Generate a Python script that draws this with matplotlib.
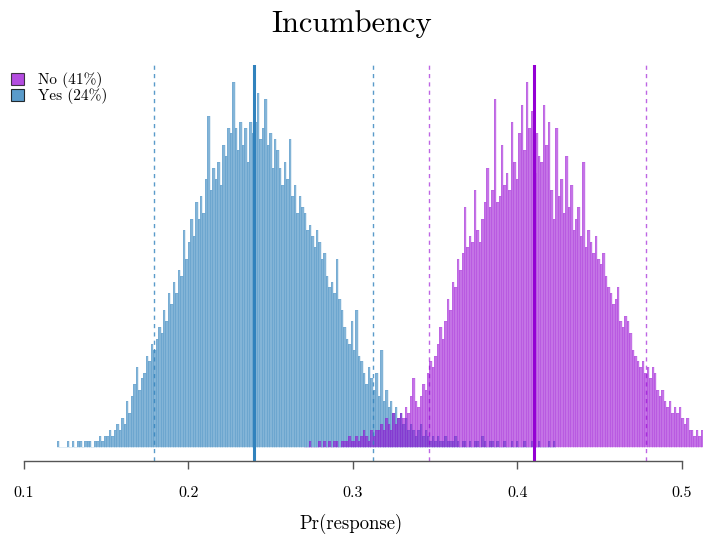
import matplotlib
matplotlib.use("Agg")
import matplotlib.pyplot as plt
import numpy as np
from matplotlib.patches import Patch

plt.rcParams['font.family'] = ['cmr10', 'DejaVu Serif']
plt.rcParams['axes.formatter.use_mathtext'] = True

# Histogram bins (left edges start here, fixed width)
bin_width = 0.0015
yes_start = 0.120
no_start = 0.270

# Posterior draws per bin, "Yes" group
yes_counts = [
    1, 0, 0, 0, 1, 0, 1, 0, 1, 1,
    0, 1, 1, 1, 0, 1, 1, 2, 1, 2,
    2, 3, 2, 3, 4, 3, 5, 4, 8, 6,
    9, 11, 14, 10, 12, 13, 16, 15, 18, 17,
    19, 21, 20, 24, 22, 27, 25, 29, 27, 31,
    30, 38, 33, 36, 40, 37, 43, 40, 44, 41,
    47, 58, 45, 49, 47, 50, 46, 53, 51, 56,
    55, 64, 56, 52, 57, 53, 56, 50, 57, 55,
    57, 62, 54, 56, 61, 53, 55, 49, 54, 52,
    49, 46, 50, 47, 54, 44, 46, 41, 44, 42,
    41, 38, 39, 37, 35, 38, 36, 33, 34, 30,
    28, 29, 27, 33, 26, 24, 21, 19, 18, 22,
    17, 24, 16, 15, 13, 11, 14, 12, 10, 13,
    9, 17, 8, 10, 7, 8, 6, 7, 5, 6,
    4, 5, 3, 4, 3, 2, 3, 4, 2, 3,
    2, 1, 2, 1, 2, 1, 1, 2, 1, 1,
    1, 2, 1, 0, 1, 1, 0, 1, 0, 1,
    1, 0, 2, 1, 0, 1, 1, 0, 1, 0,
    0, 1, 0, 0, 1, 0, 1, 0, 0, 1,
    0, 0, 1, 0, 0, 1, 0, 0, 0, 1,
    0, 1,
]

# Posterior draws per bin, "No" group
no_counts = [
    0, 0, 1, 0, 0, 0, 1, 0, 1, 0,
    1, 0, 1, 1, 0, 1, 1, 1, 2, 1,
    1, 2, 1, 2, 3, 2, 1, 3, 2, 3,
    3, 4, 3, 5, 4, 3, 6, 4, 5, 6,
    5, 7, 6, 9, 12, 8, 7, 9, 11, 10,
    13, 15, 14, 16, 18, 21, 19, 22, 26, 24,
    29, 28, 33, 31, 34, 42, 35, 37, 36, 45,
    38, 36, 40, 43, 49, 42, 45, 61, 43, 44,
    53, 46, 48, 45, 57, 50, 47, 55, 60, 52,
    64, 56, 59, 48, 55, 51, 50, 60, 53, 57,
    45, 40, 56, 44, 47, 41, 51, 42, 46, 38,
    40, 42, 37, 50, 35, 38, 36, 34, 37, 33,
    32, 34, 30, 28, 27, 25, 26, 28, 22, 21,
    23, 22, 20, 17, 16, 15, 14, 15, 13, 14,
    12, 14, 13, 10, 9, 10, 8, 7, 8, 6,
    7, 6, 7, 5, 4, 5, 3, 3, 2, 3,
    2, 3, 1, 2, 2, 3, 1,
]

# mean and 95% interval of each group
yes_mean, yes_lo, yes_hi = 0.240, 0.179, 0.312
no_mean, no_lo, no_hi = 0.410, 0.346, 0.478

labels = ["No (41%)", "Yes (24%)"]
ticks = [0.1, 0.2, 0.3, 0.4, 0.5]

blue = "#3182bd"
purple = "#9400d3"

fig = plt.figure(figsize=(7.03, 5.41), dpi=100)
ax = fig.add_axes([0, 0.148, 1, 0.732])

yes_edges = yes_start + bin_width * np.arange(len(yes_counts))
no_edges = no_start + bin_width * np.arange(len(no_counts))

ax.bar(yes_edges, yes_counts, width=bin_width, align='edge',
       color=blue, alpha=0.6, edgecolor='none', linewidth=0)
ax.bar(yes_edges, yes_counts, width=bin_width, align='edge',
       fill=False, edgecolor=blue, alpha=0.25, linewidth=0.4)
ax.bar(no_edges, no_counts, width=bin_width, align='edge',
       color=purple, alpha=0.55, edgecolor='none', linewidth=0)
ax.bar(no_edges, no_counts, width=bin_width, align='edge',
       fill=False, edgecolor=purple, alpha=0.2, linewidth=0.4)

ax.axvline(yes_mean, color=blue, lw=2.2)
ax.axvline(no_mean, color=purple, lw=2.2)
for v in (yes_lo, yes_hi):
    ax.axvline(v, color=blue, lw=1.0, ls=(0, (3, 3)), alpha=0.8)
for v in (no_lo, no_hi):
    ax.axvline(v, color=purple, lw=1.0, ls=(0, (3, 3)), alpha=0.6)

ax.set_xlim(0.0854, 0.5128)
ax.set_ylim(-2.46, 67.0)

for s in ('top', 'right', 'left'):
    ax.spines[s].set_visible(False)
ax.spines['bottom'].set_bounds(0.1, 0.5)
ax.spines['bottom'].set_color('#555555')
ax.spines['bottom'].set_linewidth(1.0)
ax.set_yticks([])
ax.set_xticks(ticks)
ax.set_xticklabels([f"{t:.1f}" for t in ticks])
ax.tick_params(axis='x', length=6, width=1.0, color='#555555',
               labelsize=11.5, pad=12)
ax.set_xlabel("Pr(response)", fontsize=13.5, labelpad=10)

fig.suptitle("Incumbency", fontsize=22, y=0.982)

handles = [
    Patch(facecolor=purple, alpha=0.7, edgecolor='black', linewidth=0.8),
    Patch(facecolor=blue, alpha=0.8, edgecolor='black', linewidth=0.8),
]
fig.legend(handles, labels, loc='upper left', bbox_to_anchor=(0.0, 0.886),
           frameon=False, fontsize=11, handlelength=0.85, handleheight=0.75,
           handletextpad=0.95, labelspacing=0.0, borderpad=0.2)

fig.savefig("out.png", dpi=100)
